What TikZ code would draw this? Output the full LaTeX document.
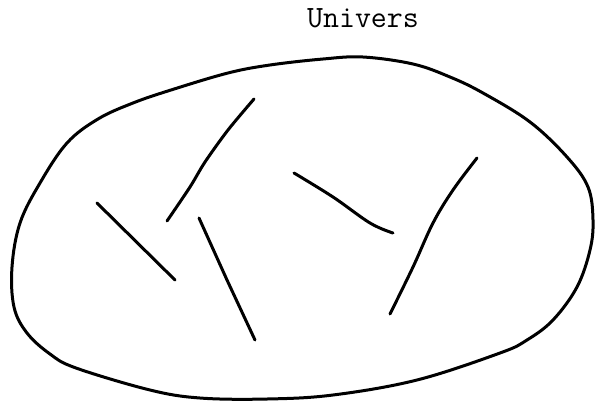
\documentclass[tikz,border=0pt]{standalone}
\usepackage{fontspec}
\begin{document}
\begin{tikzpicture}[x=1pt,y=-1pt,
  stroke/.style={line width=3pt,line cap=round,line join=round,black},
  blob/.style={line width=3pt,line join=round,black},
  title/.style={font=\fontsize{31}{32}\selectfont\ttfamily,inner sep=0pt,anchor=base}]
\useasboundingbox (0,0) rectangle (596,402);
% title
\node[title] (univers) at (363,27) {Univers};
% universe blob
\draw[blob] plot[smooth cycle,tension=0.6] coordinates {
  (323,59) (363,57) (413,64) (450,77) (483,93) (530,122) (567,157) (588,187)
  (593,220) (590,250) (577,287) (553,320) (527,340) (500,353) (417,380)
  (333,395) (267,399) (200,398) (150,390) (76,368) (50,354) (27,333) (14,307)
  (12,267) (20,223) (40,183) (67,143) (98,119) (133,103) (171,90) (228,73) (270,65)};
% strokes
\draw[stroke] plot[smooth,tension=0.5] coordinates {(254,99) (228,130) (205,162) (190,187) (167,221)};
\draw[stroke] (97,203) -- (175,280);
\draw[stroke] (199,218) -- (227,280) -- (255,340);
\draw[stroke] plot[smooth,tension=0.6] coordinates {(294,173) (333,197) (370,223) (393,233)};
\draw[stroke] plot[smooth,tension=0.6] coordinates {(477,158) (453,190) (433,223) (413,267) (390,314)};
\end{tikzpicture}
\end{document}
